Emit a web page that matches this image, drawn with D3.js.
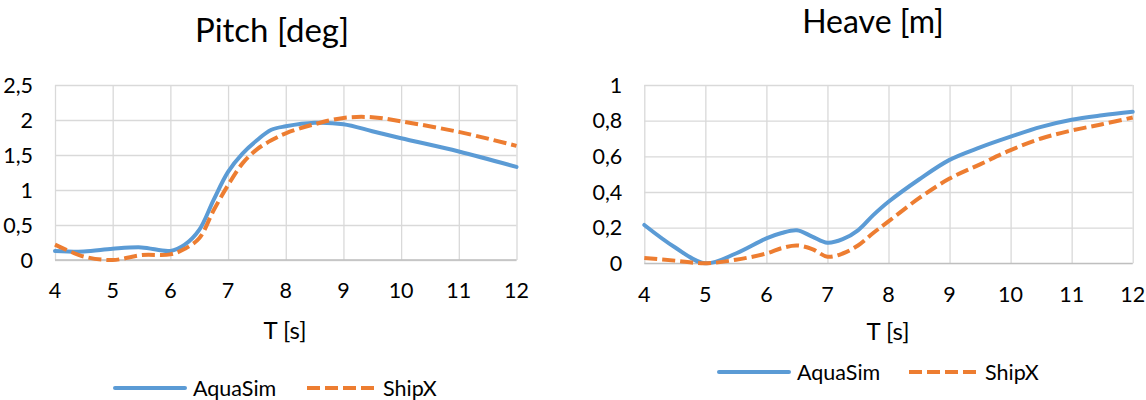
<!DOCTYPE html>
<html><head><meta charset="utf-8">
<script src="https://cdn.jsdelivr.net/npm/d3@7"></script>
<style>
html,body{margin:0;padding:0;background:#fff;}
svg text{font-family:Lato,"Open Sans",sans-serif;fill:#000;}
</style></head>
<body><svg id="c" width="1146" height="400"></svg>
<script>
// ---- data ----
const seriesNames = ["AquaSim", "ShipX"];
const xTicks = [4,5,6,7,8,9,10,11,12];

const pitchT_aqua = [4,4.5,5,5.5,6,6.25,6.5,6.75,7,7.25,7.5,7.75,8,8.5,9,9.5,10,11,12];
const pitchAqua   = [0.13,0.12,0.16,0.18,0.13,0.22,0.43,0.86,1.26,1.52,1.71,1.86,1.91,1.96,1.94,1.84,1.74,1.55,1.33];
const pitchT_ship = [4,4.5,5,5.5,6,6.25,6.5,6.75,7,7.25,7.5,7.75,8,8.5,9,9.5,10,11,12];
const pitchShip   = [0.22,0.05,0.0,0.07,0.08,0.16,0.31,0.71,1.07,1.38,1.58,1.71,1.81,1.94,2.03,2.04,1.98,1.83,1.63];
const pitchYTicks = [0,0.5,1,1.5,2,2.5];

const heaveT_aqua = [4,4.5,5,5.5,6,6.25,6.5,6.75,7,7.25,7.5,7.75,8,8.5,9,9.5,10,10.5,11,11.5,12];
const heaveAqua   = [0.215,0.09,0.0,0.055,0.14,0.17,0.185,0.15,0.115,0.135,0.185,0.27,0.345,0.47,0.58,0.65,0.71,0.765,0.805,0.83,0.85];
const heaveT_ship = [4,4.5,5,5.5,6,6.25,6.5,6.75,7,7.25,7.5,7.75,8,8.5,9,9.5,10,10.5,11,11.5,12];
const heaveShip   = [0.03,0.015,0.0,0.02,0.055,0.085,0.1,0.08,0.037,0.055,0.1,0.17,0.235,0.365,0.475,0.555,0.635,0.7,0.745,0.78,0.818];
const heaveYTicks = [0,0.2,0.4,0.6,0.8,1];

const titles = ["Pitch [deg]", "Heave [m]"];
const xLabel = "T [s]";

// ---- drawing ----
const svg = d3.select("#c");
const colors = ["#5B9BD5", "#ED7D31"];
const fmt = v => String(v).replace(".", ",");
const LW = 4, DASH = "13,5";

function panel(o){
  const g = svg.append("g");
  const x = d3.scaleLinear().domain([4,12]).range([o.left, o.right]);
  const y = d3.scaleLinear().domain([0, o.ymax]).range([o.bottom, o.top]);

  // gridlines
  const gx = g.append("g").attr("transform", `translate(0,${o.bottom})`)
    .call(d3.axisBottom(x).tickValues(xTicks).tickSize(-(o.bottom-o.top)).tickFormat(""));
  const gy = g.append("g").attr("transform", `translate(${o.left},0)`)
    .call(d3.axisLeft(y).tickValues(o.yTicks).tickSize(-(o.right-o.left)).tickFormat(""));
  [gx, gy].forEach(a => { a.select(".domain").remove(); a.selectAll("line").attr("stroke", "#D9D9D9").attr("stroke-width", 1.3); });
  g.append("line").attr("x1", o.left).attr("x2", o.right).attr("y1", o.bottom).attr("y2", o.bottom)
    .attr("stroke", "#BFBFBF").attr("stroke-width", 1.3);

  // tick labels
  g.selectAll(".xl").data(xTicks).enter().append("text")
    .attr("x", d => x(d)).attr("y", o.xLabY).attr("text-anchor", "middle")
    .style("font-size", "21.5px").text(d => d);
  g.selectAll(".yl").data(o.yTicks).enter().append("text")
    .attr("x", o.left - 22).attr("y", d => y(d)).attr("dy", "0.36em").attr("text-anchor", "end")
    .style("font-size", "21.5px").text(fmt);

  // title & axis title
  g.append("text").attr("x", o.titleX).attr("y", o.titleY).attr("text-anchor", "middle")
    .style("font-size", o.titleSize).text(o.title);
  g.append("text").attr("x", o.axTitleX).attr("y", o.axTitleY).attr("text-anchor", "middle")
    .style("font-size", "24px").text(xLabel);

  // lines
  const line = d3.line().x(d => x(d[0])).y(d => y(d[1])).curve(d3.curveCatmullRom.alpha(0.5));
  const s1 = o.t1.map((t,i) => [t, o.v1[i]]);
  const s2 = o.t2.map((t,i) => [t, o.v2[i]]);
  g.append("path").datum(s1).attr("d", line).attr("fill", "none")
    .attr("stroke", colors[0]).attr("stroke-width", LW).attr("stroke-linejoin", "round").attr("stroke-linecap", "round");
  g.append("path").datum(s2).attr("d", line).attr("fill", "none")
    .attr("stroke", colors[1]).attr("stroke-width", LW).attr("stroke-dasharray", DASH);

  // legend
  const L = o.legend;
  g.append("line").attr("x1", L.x1).attr("x2", L.x1 + 70).attr("y1", L.y).attr("y2", L.y)
    .attr("stroke", colors[0]).attr("stroke-width", LW).attr("stroke-linecap", "round");
  g.append("text").attr("x", L.x1 + 78).attr("y", L.y).attr("dy", "0.36em").style("font-size", "21.5px").text(seriesNames[0]);
  g.append("line").attr("x1", L.x2).attr("x2", L.x2 + 70).attr("y1", L.y).attr("y2", L.y)
    .attr("stroke", colors[1]).attr("stroke-width", LW).attr("stroke-dasharray", DASH);
  g.append("text").attr("x", L.x2 + 76).attr("y", L.y).attr("dy", "0.36em").style("font-size", "21.5px").text(seriesNames[1]);
}

panel({left:55, right:516.5, top:85, bottom:260, ymax:2.5, yTicks:pitchYTicks,
  xLabY:298, title:titles[0], titleSize:"33px", titleX:272, titleY:42, axTitleX:285, axTitleY:339,
  t1:pitchT_aqua, v1:pitchAqua, t2:pitchT_ship, v2:pitchShip,
  legend:{x1:115, x2:307, y:388}});
panel({left:644.3, right:1132.7, top:85, bottom:263.3, ymax:1, yTicks:heaveYTicks,
  xLabY:302, title:titles[1], titleSize:"32px", titleX:873, titleY:33, axTitleX:888, axTitleY:340,
  t1:heaveT_aqua, v1:heaveAqua, t2:heaveT_ship, v2:heaveShip,
  legend:{x1:719, x2:909, y:372}});
</script></body></html>
